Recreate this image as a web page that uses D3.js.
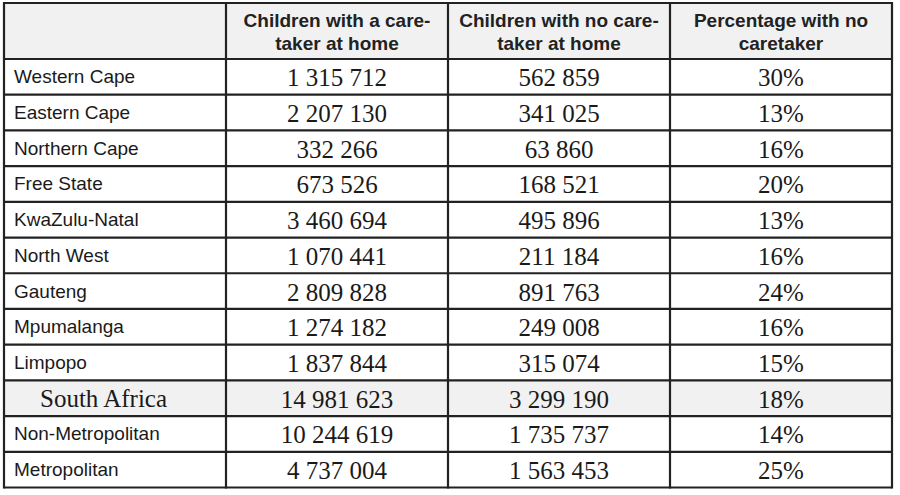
<!DOCTYPE html>
<html>
  <head>
    <meta charset="utf-8">
    <title>Children with and without a caretaker at home</title>
    <script src="https://cdn.jsdelivr.net/npm/d3@7/dist/d3.min.js"></script>
    <style>
      html, body { margin: 0; padding: 0; background: #fff; }
      svg { display: block; }
    </style>
  </head>
  <body>
    <div id="table"></div>

    <script>
      // Table data
      const headers = [
        ['Children with a care-', 'taker at home'],
        ['Children with no care-', 'taker at home'],
        ['Percentage with no', 'caretaker']
      ];
      const regions = [
        'Western Cape', 'Eastern Cape', 'Northern Cape', 'Free State',
        'KwaZulu-Natal', 'North West', 'Gauteng', 'Mpumalanga', 'Limpopo',
        'South Africa', 'Non-Metropolitan', 'Metropolitan'
      ];
      const withCaretaker = [
        1315712, 2207130, 332266, 673526, 3460694, 1070441,
        2809828, 1274182, 1837844, 14981623, 10244619, 4737004
      ];
      const noCaretaker = [
        562859, 341025, 63860, 168521, 495896, 211184,
        891763, 249008, 315074, 3299190, 1735737, 1563453
      ];
      const pctNoCaretaker = [30, 13, 16, 20, 13, 16, 24, 16, 15, 18, 14, 25];
      const totalRow = 'South Africa';

      const width = 900, height = 495;
      const x0 = 4, x1 = 892, y0 = 3, headBottom = 59, y1 = 487.5;

      const fmt = d3.formatLocale({ decimal: '.', thousands: ' ', grouping: [3], currency: ['', ''] }).format(',d');

      const x = d3.scaleBand().domain(d3.range(4)).range([x0, x1]);
      const y = d3.scaleBand().domain(regions).range([headBottom, y1]);

      const svg = d3.select('#table')
        .append('svg')
        .attr('width', width)
        .attr('height', height);

      // Header background and total row background
      svg.append('rect')
        .attr('x', x0).attr('y', y0)
        .attr('width', x1 - x0).attr('height', headBottom - y0)
        .attr('fill', '#f1f1f1');
      svg.append('rect')
        .attr('x', x0).attr('y', y(totalRow))
        .attr('width', x1 - x0).attr('height', y.bandwidth())
        .attr('fill', '#f1f1f1');

      // Header text
      const head = svg.append('g')
        .attr('font-family', 'Liberation Sans, Arial, sans-serif')
        .attr('font-weight', 'bold')
        .attr('font-size', 19)
        .attr('fill', '#222')
        .attr('text-anchor', 'middle');
      head.selectAll('text')
        .data(headers)
        .enter()
        .append('text')
        .attr('x', (d, i) => x(i + 1) + x.bandwidth() / 2)
        .attr('y', 27)
        .each(function (d) {
          const t = d3.select(this);
          t.append('tspan').text(d[0]);
          t.append('tspan').attr('x', t.attr('x')).attr('dy', 23).text(d[1]);
        });

      // Rows
      const rows = svg.selectAll('g.row')
        .data(regions.map((r, i) => ({
          region: r,
          cells: [fmt(withCaretaker[i]), fmt(noCaretaker[i]), pctNoCaretaker[i] + '%']
        })))
        .enter()
        .append('g')
        .attr('class', 'row')
        .attr('transform', d => `translate(0,${y(d.region) + y.bandwidth() / 2})`);

      rows.append('text')
        .text(d => d.region)
        .attr('x', d => d.region === totalRow ? 40 : 14)
        .attr('y', d => d.region === totalRow ? 8.5 : 6.5)
        .attr('font-family', d => d.region === totalRow ? 'Liberation Serif, Times New Roman, serif' : 'Liberation Sans, Arial, sans-serif')
        .attr('font-size', d => d.region === totalRow ? 25 : 19)
        .attr('fill', '#1a1a1a');

      rows.selectAll('text.val')
        .data(d => d.cells)
        .enter()
        .append('text')
        .attr('class', 'val')
        .text(d => d)
        .attr('x', (d, i) => x(i + 1) + x.bandwidth() / 2)
        .attr('y', 9.5)
        .attr('text-anchor', 'middle')
        .attr('font-family', 'Liberation Serif, Times New Roman, serif')
        .attr('font-size', 25)
        .attr('fill', '#1a1a1a');

      // Grid lines
      const grid = svg.append('g')
        .attr('stroke', '#222')
        .attr('stroke-width', 2.2)
        .attr('fill', 'none');
      const hLines = [y0, headBottom].concat(regions.slice(1).map(r => y(r)), [y1]);
      grid.selectAll('line.h')
        .data(hLines)
        .enter()
        .append('line')
        .attr('x1', x0).attr('x2', x1)
        .attr('y1', d => d).attr('y2', d => d);
      const vLines = d3.range(4).map(i => x(i)).concat([x1]);
      grid.selectAll('line.v')
        .data(vLines)
        .enter()
        .append('line')
        .attr('x1', d => d).attr('x2', d => d)
        .attr('y1', y0 - 1.1).attr('y2', y1 + 1.1);
    </script>
  </body>
</html>
